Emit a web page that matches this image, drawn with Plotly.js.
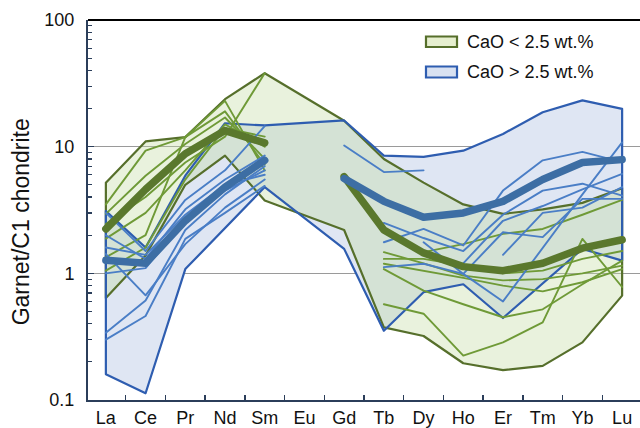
<!DOCTYPE html>
<html><head><meta charset="utf-8">
<script src="https://cdn.plot.ly/plotly-3.0.1.min.js"></script>
<style>
html,body{margin:0;padding:0;overflow:hidden;background:#fff;}
#chart{width:640px;height:428px;}
.scatterlayer .js-line{stroke-linecap:round;stroke-linejoin:round;}
</style></head><body><div id="chart"></div>
<script>
// REE order
const elements = ['La','Ce','Pr','Nd','Sm','Eu','Gd','Tb','Dy','Ho','Er','Tm','Yb','Lu'];

// Envelopes (Garnet / C1 chondrite)
const greenUpper = [5.2, 11.0, 11.9, 23.7, 38, null, 16, 8.0, 5.2, 3.5, 2.95, 3.2, 3.6, 4.7];
const greenLower = [0.64, 1.38, 5.0, 8.5, 3.76, null, 2.2, 0.374, 0.32, 0.195, 0.172, 0.186, 0.285, 0.667];
const blueUpper  = [3.1, 1.6, 5.9, 15.3, 14.7, null, 16.1, 8.5, 8.3, 9.3, 12.6, 18.7, 23.2, 19.9];
const blueLower  = [0.16, 0.113, 1.08, 2.28, 4.8, null, 1.56, 0.352, 0.71, 0.82, 0.444, 0.83, 1.56, 1.26];

// Average patterns
const greenMean = [2.24, 4.6, 8.8, 13.4, 10.7, null, 5.8, 2.2, 1.45, 1.13, 1.05, 1.2, 1.58, 1.84];
const blueMean  = [1.27, 1.2, 2.6, 4.8, 7.8, null, 5.6, 3.7, 2.77, 3.0, 3.7, 5.5, 7.5, 7.9];

// Individual samples, CaO < 2.5 wt.%
const g1 = [3.5, 9.3, 11.9, 23.0, 6.5, null, null, 1.47, 1.2, 0.96, 0.88, 0.9, 1.0, 1.15];
const g2 = [2.95, 5.9, 10.5, 17, 8.0, null, null, 1.19, 1.05, 0.92, 0.8, 0.72, 0.85, 1.08];
const g3 = [2.45, 4.0, 7.5, 12, 38, null, null, 0.57, 0.48, 0.224, 0.285, 0.41, 1.87, 0.78];
const g4 = [1.88, 3.0, 6.5, 15, 10, null, null, 1.08, 0.73, 0.57, 0.45, 0.52, 0.82, 1.26];
const g5 = [1.34, 2.0, 11.9, 19, 7.2, null, null, null, 1.47, 1.7, 2.05, 2.24, 2.9, 3.8];
const g6 = [1.05, 1.6, 5.5, 14, 12, null, null, 1.3, 1.3, 1.15, 1.0, 1.05, 1.3, 1.5];
const greenSamples = [g1, g2, g3, g4, g5, g6];

// Individual samples, CaO > 2.5 wt.%
const b1 = [1.42, 0.67, 1.7, 3.3, 5.5, null, 10.2, 6.3, 6.5, null, null, null, null, null];
const b2 = [0.34, 0.61, 2.2, 4.2, 7.0, null, null, 1.76, 2.24, 1.66, 4.5, 7.8, 9.1, 7.55];
const b3 = [0.30, 0.46, 1.87, 3.0, 4.9, null, null, 1.12, 1.19, 0.99, 2.11, 1.93, 3.87, 3.87];
const b4 = [3.0, 1.5, 3.8, 6.5, 14.5, null, null, null, 1.76, 0.99, 0.6, 1.6, 4.2, 10.8];
const b5 = [2.0, 1.3, 3.2, 5.5, 8.5, null, null, 2.5, 1.9, 1.5, 2.9, 4.5, 5.1, 4.1];
const b6 = [1.0, 1.1, 2.6, 4.5, 6.5, null, null, null, null, 1.2, 2.6, 3.4, 4.6, 6.1];
const b7 = [1.6, 1.4, 2.9, 5.0, 6.0, null, null, null, null, null, 1.4, 3.0, 3.3, 4.8];
const blueSamples = [b1, b2, b3, b4, b5, b6, b7];

const legendLabels = ['CaO < 2.5 wt.%', 'CaO > 2.5 wt.%'];
const yTitle = 'Garnet/C1 chondrite';

const GREEN_LINE = '#566f2b', GREEN_THIN = '#6f9a37', GREEN_MEAN = '#5a782d';
const BLUE_LINE = '#2e5db0', BLUE_THIN = '#4a7ec6', BLUE_MEAN = '#3d6ea4';

function envelope(upper, lower) {
  const xs = [], ys = [];
  elements.forEach((e, i) => { if (upper[i] != null) { xs.push(e); ys.push(upper[i]); } });
  for (let i = elements.length - 1; i >= 0; i--) {
    if (lower[i] != null) { xs.push(elements[i]); ys.push(lower[i]); }
  }
  xs.push(xs[0]); ys.push(ys[0]);
  return { xs, ys };
}
const gEnv = envelope(greenUpper, greenLower);
const bEnv = envelope(blueUpper, blueLower);

const traces = [];
traces.push({x: bEnv.xs, y: bEnv.ys, type: 'scatter', mode: 'lines', fill: 'toself',
  fillcolor: '#dfe6f3', line: {width: 0, color: 'rgba(0,0,0,0)'}, hoverinfo: 'skip'});
traces.push({x: gEnv.xs, y: gEnv.ys, type: 'scatter', mode: 'lines', fill: 'toself',
  fillcolor: 'rgba(195,219,161,0.36)', line: {width: 0, color: 'rgba(0,0,0,0)'}, hoverinfo: 'skip'});
traces.push({x: gEnv.xs, y: gEnv.ys, type: 'scatter', mode: 'lines', line: {color: GREEN_LINE, width: 2.2}});
traces.push({x: bEnv.xs, y: bEnv.ys, type: 'scatter', mode: 'lines', line: {color: BLUE_LINE, width: 2.2}});
greenSamples.forEach(s => traces.push({x: elements, y: s, type: 'scatter', mode: 'lines',
  connectgaps: false, line: {color: GREEN_THIN, width: 1.9}}));
blueSamples.forEach(s => traces.push({x: elements, y: s, type: 'scatter', mode: 'lines',
  connectgaps: false, line: {color: BLUE_THIN, width: 1.9}}));
traces.push({x: elements, y: greenMean, type: 'scatter', mode: 'lines', connectgaps: false,
  line: {color: GREEN_MEAN, width: 7.5}});
traces.push({x: elements, y: blueMean, type: 'scatter', mode: 'lines', connectgaps: false,
  line: {color: BLUE_MEAN, width: 7.5}});

const minorVals = [];
[0.1, 1, 10].forEach(d => { for (let k = 2; k <= 9; k++) minorVals.push(+(k * d).toPrecision(3)); });

const AX = '#2b3e5a';
const layout = {
  width: 640, height: 428,
  margin: {l: 88, r: 0, t: 20, b: 28, pad: 0},
  paper_bgcolor: '#fff', plot_bgcolor: 'rgba(0,0,0,0)',
  showlegend: false,
  font: {family: 'Liberation Sans, Arial, sans-serif', size: 18, color: '#111'},
  xaxis: {type: 'category', categoryorder: 'array', categoryarray: elements,
    range: [-0.45, 13.45], tickson: 'boundaries', ticks: 'inside', ticklen: 5, tickwidth: 1.5,
    tickcolor: AX, showline: true, linecolor: AX, linewidth: 2, showgrid: false, zeroline: false,
    tickfont: {size: 18}},
  yaxis: {type: 'log', range: [-1, 2], tickvals: [0.1, 1, 10, 100], ticktext: ['0.1', '1', '10', '100'],
    ticks: 'inside', ticklen: 6, tickwidth: 1.2, tickcolor: AX, showline: true, linecolor: AX, linewidth: 2,
    showgrid: true, gridcolor: '#9a9a9a', gridwidth: 1, zeroline: false, ticklabelstandoff: 8,
    minor: {tickvals: minorVals, ticks: 'inside', ticklen: 4, tickwidth: 1.2, tickcolor: AX, showgrid: false}},
  shapes: [
    {type: 'line', xref: 'paper', yref: 'paper', x0: 0, x1: 1, y0: 1, y1: 1, line: {color: '#000', width: 2}},
    {type: 'rect', xref: 'paper', yref: 'paper', x0: 0.6123, x1: 0.6685, y0: 0.9289, y1: 0.9566,
      fillcolor: '#e6efcf', line: {color: GREEN_LINE, width: 2.2}},
    {type: 'rect', xref: 'paper', yref: 'paper', x0: 0.6123, x1: 0.6685, y0: 0.8487, y1: 0.8776,
      fillcolor: '#d8e1f1', line: {color: BLUE_LINE, width: 2.2}}
  ],
  annotations: [
    {xref: 'paper', yref: 'paper', x: 0.683, y: 0.9429, xanchor: 'left', yanchor: 'middle',
      text: legendLabels[0], showarrow: false, font: {size: 18, color: '#111'}},
    {xref: 'paper', yref: 'paper', x: 0.683, y: 0.8639, xanchor: 'left', yanchor: 'middle',
      text: legendLabels[1], showarrow: false, font: {size: 18, color: '#111'}},
    {xref: 'paper', yref: 'paper', x: -0.121, y: 0.468, xanchor: 'center', yanchor: 'middle',
      textangle: -90, text: yTitle, showarrow: false, font: {size: 23, color: '#111'}}
  ]
};

Plotly.newPlot('chart', traces, layout, {displayModeBar: false, staticPlot: true});
</script></body></html>
